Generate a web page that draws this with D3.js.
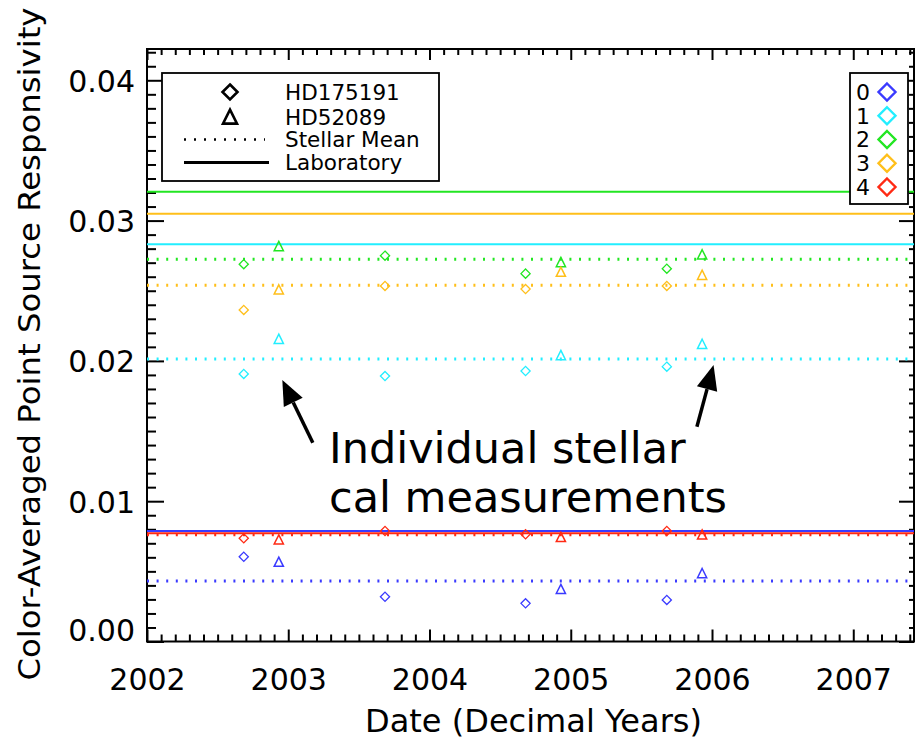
<!DOCTYPE html>
<html>
<head>
<meta charset="utf-8">
<script src="https://cdn.jsdelivr.net/npm/d3@7"></script>
<style>
  body { margin: 0; background: #fff; }
  svg { display: block; }
  text { font-family: "DejaVu Sans", sans-serif; fill: #000; }
</style>
</head>
<body>
<svg id="chart"></svg>
<script>
// channel lookup
const channels = ["0", "1", "2", "3", "4"]
const channelColors = ["#3a3aff", "#22eeff", "#22e622", "#ffbf1a", "#ff2a14"]

// laboratory responsivity (solid) and stellar mean (dotted), one per channel
const laboratory = [0.00788, 0.02831, 0.03206, 0.03049, 0.00771]
const stellarMean = [0.00431, 0.02014, 0.02724, 0.02539, 0.00760]

// HD175191 (diamonds)
const hd175191Dates = [2002.685, 2003.685, 2004.68, 2005.68]
const hd175191 = [
  [0.00604, 0.00319, 0.00272, 0.00296],
  [0.01907, 0.01892, 0.01928, 0.01959],
  [0.02689, 0.02750, 0.02622, 0.02657],
  [0.02363, 0.02534, 0.02512, 0.02534],
  [0.00736, 0.00788, 0.00764, 0.00788]
]

// HD52089 (triangles)
const hd52089Dates = [2002.933, 2004.93, 2005.93]
const hd52089 = [
  [0.00567, 0.00373, 0.00486],
  [0.02156, 0.02040, 0.02120],
  [0.02817, 0.02703, 0.02758],
  [0.02508, 0.02634, 0.02612],
  [0.00726, 0.00743, 0.00761]
]

const xTicks = [2002, 2003, 2004, 2005, 2006, 2007]
const yTicks = [0, 0.01, 0.02, 0.03, 0.04]
const starLabels = ["HD175191", "HD52089", "Stellar Mean", "Laboratory"]
const noteLines = ["Individual stellar", "cal measurements"]
// arrows in data units: [tailX, tailY, tipX, tipY]
const noteArrows = [
  [2003.174, 0.01417, 2002.958, 0.01864],
  [2005.893, 0.01531, 2006.011, 0.01971]
]

const width = 916, height = 739
const marginLeft = 147, marginRight = 2, marginTop = 49, marginBottom = 97.5

const x = d3.scaleLinear([2002, 2007.43], [marginLeft, width - marginRight])
const y = d3.scaleLinear([0, 0.04223], [height - marginBottom, marginTop])

const svg = d3.select("#chart")
    .attr("width", width)
    .attr("height", height)
    .attr("viewBox", [0, 0, width, height])

const minorX = d3.range(2002, 2007.45, 0.1).filter(v => Math.abs(v - Math.round(v)) > 0.01)
const minorY = d3.range(0, 0.0423, 0.001).filter(v => Math.abs(v * 100 - Math.round(v * 100)) > 0.01)

function tickStyle(g) {
  g.select(".domain").remove()
  g.selectAll(".tick line").attr("stroke", "#000").attr("stroke-width", 2)
}

// bottom axis
svg.append("g")
    .attr("transform", `translate(0,${y(0)})`)
    .call(d3.axisBottom(x).tickValues(minorX).tickSize(-7).tickFormat(""))
    .call(tickStyle)
svg.append("g")
    .attr("transform", `translate(0,${y(0)})`)
    .call(d3.axisBottom(x).tickValues(xTicks).tickSize(-12).tickFormat(d3.format("d")))
    .call(tickStyle)
    .call(g => g.selectAll(".tick text")
        .attr("y", 48).attr("dy", null)
        .attr("font-size", 30).attr("font-family", null))

// top axis
svg.append("g")
    .attr("transform", `translate(0,${y.range()[1]})`)
    .call(d3.axisTop(x).tickValues(minorX).tickSize(-6).tickFormat(""))
    .call(tickStyle)
svg.append("g")
    .attr("transform", `translate(0,${y.range()[1]})`)
    .call(d3.axisTop(x).tickValues(xTicks).tickSize(-11).tickFormat(""))
    .call(tickStyle)

// left axis
svg.append("g")
    .attr("transform", `translate(${x(2002)},0)`)
    .call(d3.axisLeft(y).tickValues(minorY).tickSize(-9).tickFormat(""))
    .call(tickStyle)
svg.append("g")
    .attr("transform", `translate(${x(2002)},0)`)
    .call(d3.axisLeft(y).tickValues(yTicks).tickSize(-17).tickPadding(12).tickFormat(d3.format(".2f")))
    .call(tickStyle)
    .call(g => g.selectAll(".tick text")
        .attr("font-size", 30).attr("font-family", null)
        .attr("dy", d => d === 0 ? "-0.05em" : "0.36em"))

// right axis
svg.append("g")
    .attr("transform", `translate(${x.range()[1]},0)`)
    .call(d3.axisRight(y).tickValues(minorY).tickSize(-5).tickFormat(""))
    .call(tickStyle)
svg.append("g")
    .attr("transform", `translate(${x.range()[1]},0)`)
    .call(d3.axisRight(y).tickValues(yTicks).tickSize(-15).tickFormat(""))
    .call(tickStyle)

// frame
svg.append("rect")
    .attr("x", x.range()[0]).attr("y", y.range()[1])
    .attr("width", x.range()[1] - x.range()[0])
    .attr("height", y.range()[0] - y.range()[1])
    .attr("fill", "none").attr("stroke", "#000").attr("stroke-width", 2)

// laboratory lines
svg.append("g")
  .selectAll("line")
  .data(laboratory)
  .join("line")
    .attr("x1", x.range()[0]).attr("x2", x.range()[1])
    .attr("y1", d => y(d)).attr("y2", d => y(d))
    .attr("stroke", (d, i) => channelColors[i])
    .attr("stroke-width", 2)

// stellar mean lines
svg.append("g")
  .selectAll("line")
  .data(stellarMean)
  .join("line")
    .attr("x1", x.range()[0]).attr("x2", x.range()[1])
    .attr("y1", d => y(d)).attr("y2", d => y(d))
    .attr("stroke", (d, i) => channelColors[i])
    .attr("stroke-width", 3)
    .attr("stroke-dasharray", "2,7.6")

const diamond = s => `M0,${-s}L${s},0L0,${s}L${-s},0Z`
const triangle = s => `M0,${-s * 1.05}L${s},${s * 0.95}L${-s},${s * 0.95}Z`

// HD175191 diamonds
hd175191.forEach((vals, c) => {
  svg.append("g")
    .selectAll("path")
    .data(vals)
    .join("path")
      .attr("transform", (d, i) => `translate(${x(hd175191Dates[i])},${y(d)})`)
      .attr("d", diamond(4.6))
      .attr("fill", "none")
      .attr("stroke", channelColors[c])
      .attr("stroke-width", 1.3)
})

// HD52089 triangles
hd52089.forEach((vals, c) => {
  svg.append("g")
    .selectAll("path")
    .data(vals)
    .join("path")
      .attr("transform", (d, i) => `translate(${x(hd52089Dates[i])},${y(d)})`)
      .attr("d", triangle(4.6))
      .attr("fill", "none")
      .attr("stroke", channelColors[c])
      .attr("stroke-width", 1.5)
})

// legend: symbols
const leg = svg.append("g")
leg.append("rect")
    .attr("x", 162).attr("y", 73).attr("width", 277).attr("height", 108)
    .attr("fill", "#fff").attr("stroke", "#000").attr("stroke-width", 1.8)
const rowY = [92, 117, 139.5, 162.5]
leg.append("path")
    .attr("transform", `translate(230,${rowY[0]})`)
    .attr("d", diamond(7.5))
    .attr("fill", "none").attr("stroke", "#000").attr("stroke-width", 2.6)
leg.append("path")
    .attr("transform", `translate(230,${rowY[1]})`)
    .attr("d", triangle(7))
    .attr("fill", "none").attr("stroke", "#000").attr("stroke-width", 2.6)
leg.append("line")
    .attr("x1", 184).attr("x2", 265).attr("y1", rowY[2]).attr("y2", rowY[2])
    .attr("stroke", "#000").attr("stroke-width", 2.5).attr("stroke-dasharray", "2,8")
leg.append("line")
    .attr("x1", 184).attr("x2", 269).attr("y1", rowY[3]).attr("y2", rowY[3])
    .attr("stroke", "#000").attr("stroke-width", 3)
leg.selectAll("text")
  .data(starLabels)
  .join("text")
    .attr("x", 285).attr("y", (d, i) => rowY[i])
    .attr("dy", "0.36em")
    .attr("font-size", 21.5)
    .text(d => d)

// legend: channels
const leg2 = svg.append("g")
leg2.append("rect")
    .attr("x", 850).attr("y", 73).attr("width", 58).attr("height", 131)
    .attr("fill", "#fff").attr("stroke", "#000").attr("stroke-width", 1.8)
const chanRow = d3.scalePoint(channels, [92, 187])
leg2.selectAll("text")
  .data(channels)
  .join("text")
    .attr("x", 863).attr("y", d => chanRow(d))
    .attr("dy", "0.36em").attr("text-anchor", "middle")
    .attr("font-size", 22)
    .text(d => d)
leg2.selectAll("path")
  .data(channels)
  .join("path")
    .attr("transform", d => `translate(887,${chanRow(d)})`)
    .attr("d", diamond(8.5))
    .attr("fill", "none")
    .attr("stroke", (d, i) => channelColors[i])
    .attr("stroke-width", 2.4)

// annotation
svg.append("g")
  .selectAll("text")
  .data(noteLines)
  .join("text")
    .attr("x", 329).attr("y", (d, i) => 463 + i * 49)
    .attr("font-size", 43)
    .text(d => d)

noteArrows.forEach(([x0, y0, x1, y1]) => {
  const px0 = x(x0), py0 = y(y0), px1 = x(x1), py1 = y(y1)
  const ang = Math.atan2(py1 - py0, px1 - px0)
  const len = 25, half = 10.5
  const bx = px1 - len * Math.cos(ang), by = py1 - len * Math.sin(ang)
  svg.append("line")
      .attr("x1", px0).attr("y1", py0).attr("x2", bx).attr("y2", by)
      .attr("stroke", "#000").attr("stroke-width", 3.5)
  svg.append("path")
      .attr("d", `M${px1},${py1}L${bx + half * Math.sin(ang)},${by - half * Math.cos(ang)}L${bx - half * Math.sin(ang)},${by + half * Math.cos(ang)}Z`)
      .attr("fill", "#000")
})

// axis titles
svg.append("text")
    .attr("x", 533.5).attr("y", 731.5)
    .attr("text-anchor", "middle")
    .attr("font-size", 32)
    .attr("textLength", 337).attr("lengthAdjust", "spacingAndGlyphs")
    .text("Date (Decimal Years)")

svg.append("text")
    .attr("transform", "translate(40,344) rotate(-90)")
    .attr("text-anchor", "middle")
    .attr("font-size", 30)
    .attr("textLength", 673).attr("lengthAdjust", "spacingAndGlyphs")
    .text("Color-Averaged Point Source Responsivity")
</script>
</body>
</html>
